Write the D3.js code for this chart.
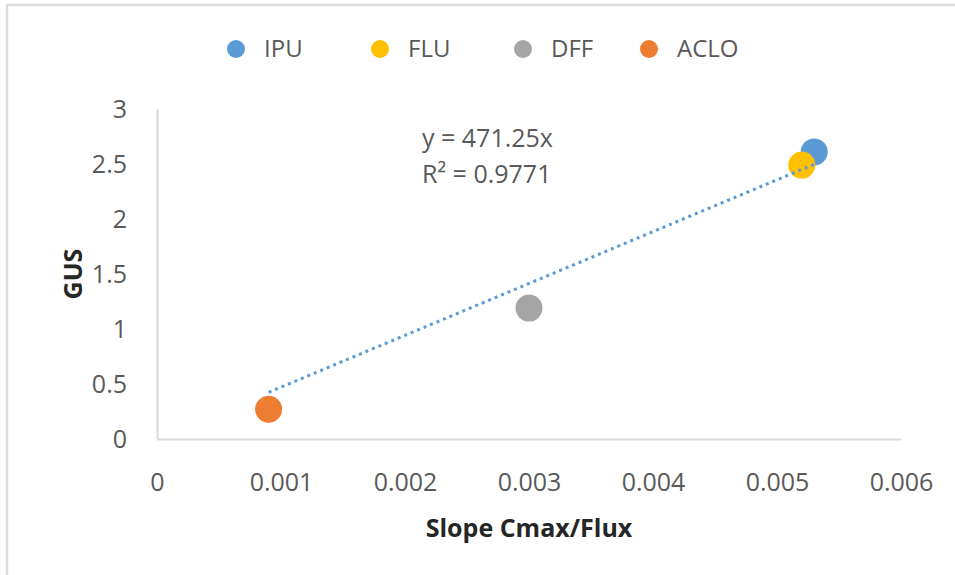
<!DOCTYPE html>
<html>
<head>
<meta charset="utf-8">
<script src="https://cdn.jsdelivr.net/npm/d3@7"></script>
<style>
  body { margin: 0; background: #fff; }
  text { font-family: "Open Sans", "Liberation Sans", sans-serif; }
</style>
</head>
<body>
<div id="scatter"></div>
<script>
// chart data
var seriesNames = ["IPU", "FLU", "DFF", "ACLO"];
var seriesColors = ["#5b9bd5", "#ffc000", "#a5a5a5", "#ed7d31"];
var slopeValues = [0.0053, 0.0052, 0.0030, 0.0009];
var gusValues = [2.61, 2.49, 1.19, 0.27];
var xTicks = [0, 0.001, 0.002, 0.003, 0.004, 0.005, 0.006];
var xTickLabels = ["0", "0.001", "0.002", "0.003", "0.004", "0.005", "0.006"];
var yTicks = [0, 0.5, 1, 1.5, 2, 2.5, 3];
var yTickLabels = ["0", "0.5", "1", "1.5", "2", "2.5", "3"];
var trendSlope = 471.25;
var trendLabels = ["y = 471.25x", "R² = 0.9771"];

var svgWidth = 955;
var svgHeight = 575;

var margin = {
  top: 109,
  right: 54,
  bottom: 136,
  left: 157
};

var width = svgWidth - margin.left - margin.right;
var height = svgHeight - margin.top - margin.bottom;

var svg = d3.select("#scatter")
  .append("svg")
  .attr("width", svgWidth)
  .attr("height", svgHeight);

// outer chart frame (only top/left edges visible in the crop)
svg.append("rect")
  .attr("x", 7)
  .attr("y", 5)
  .attr("width", svgWidth + 10)
  .attr("height", svgHeight + 10)
  .attr("fill", "none")
  .attr("stroke", "#dcdcdc")
  .attr("stroke-width", 2.5);

var chartGroup = svg.append("g")
  .attr("transform", `translate(${margin.left}, ${margin.top})`);

var xLinearScale = d3.scaleLinear()
  .domain([0, 0.006])
  .range([0, width]);

var yLinearScale = d3.scaleLinear()
  .domain([0, 3])
  .range([height, 0]);

var bottomAxis = d3.axisBottom(xLinearScale)
  .tickValues(xTicks)
  .tickFormat((d, i) => xTickLabels[i])
  .tickSize(0)
  .tickPadding(34);

var leftAxis = d3.axisLeft(yLinearScale)
  .tickValues(yTicks)
  .tickFormat((d, i) => yTickLabels[i])
  .tickSize(0)
  .tickPadding(30);

var xAxisG = chartGroup.append("g")
  .attr("transform", `translate(0, ${height})`)
  .call(bottomAxis);

var yAxisG = chartGroup.append("g")
  .call(leftAxis);

[xAxisG, yAxisG].forEach(function(g) {
  g.select(".domain")
    .attr("stroke", "#d9d9d9")
    .attr("stroke-width", 2);
  g.selectAll("text")
    .attr("fill", "#595959")
    .attr("font-size", "25px")
    .attr("font-family", "\"Open Sans\", sans-serif");
});
yAxisG.selectAll("text").attr("dy", "0.35em");

var points = slopeValues.map(function(x, i) {
  return { name: seriesNames[i], x: x, y: gusValues[i], color: seriesColors[i] };
});

chartGroup.selectAll("circle.pt")
  .data(points)
  .enter()
  .append("circle")
  .attr("class", "pt")
  .attr("cx", d => xLinearScale(d.x))
  .attr("cy", d => yLinearScale(d.y))
  .attr("r", 13.5)
  .attr("fill", d => d.color);

// linear trendline through origin, over data x range
var xMin = d3.min(slopeValues);
var xMax = d3.max(slopeValues);
chartGroup.append("line")
  .attr("x1", xLinearScale(xMin))
  .attr("y1", yLinearScale(trendSlope * xMin))
  .attr("x2", xLinearScale(xMax))
  .attr("y2", yLinearScale(trendSlope * xMax))
  .attr("stroke", "#5b9bd5")
  .attr("stroke-width", 3)
  .attr("stroke-dasharray", "3,4");

chartGroup.selectAll("text.eq")
  .data(trendLabels)
  .enter()
  .append("text")
  .attr("class", "eq")
  .attr("x", 265)
  .attr("y", (d, i) => 38 + i * 36)
  .attr("fill", "#595959")
  .attr("font-size", "25px")
  .text(d => d);

// axis titles
chartGroup.append("text")
  .attr("transform", "rotate(-90)")
  .attr("y", 82 - margin.left)
  .attr("x", 0 - (height / 2))
  .attr("text-anchor", "middle")
  .attr("font-weight", 700)
  .attr("font-size", "25px")
  .attr("fill", "#262626")
  .text("GUS");

chartGroup.append("text")
  .attr("transform", `translate(${width / 2}, ${height + 98})`)
  .attr("text-anchor", "middle")
  .attr("font-weight", 700)
  .attr("font-size", "25px")
  .attr("fill", "#262626")
  .text("Slope Cmax/Flux");

// legend, item offsets as in the original layout
var legendOffsets = [0, 144, 287, 413];
var legend = svg.append("g")
  .attr("transform", "translate(236, 49)");

seriesNames.forEach(function(name, i) {
  var item = legend.append("g")
    .attr("transform", `translate(${legendOffsets[i]}, 0)`);
  item.append("circle")
    .attr("r", 9)
    .attr("fill", seriesColors[i]);
  item.append("text")
    .attr("x", 28)
    .attr("dy", "0.35em")
    .attr("fill", "#595959")
    .attr("font-size", "24px")
    .text(name);
});
</script>
</body>
</html>
